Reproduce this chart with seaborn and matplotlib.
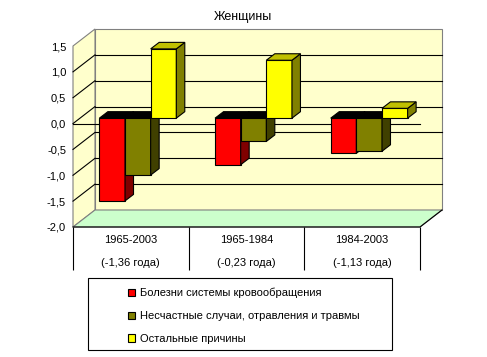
import numpy as np
import pandas as pd
import matplotlib
matplotlib.use('Agg')
import matplotlib.pyplot as plt
import matplotlib.transforms as mtransforms
from matplotlib.patches import Polygon, Rectangle, Patch
import seaborn as sns

# data
periods = ['1965-2003', '1965-1984', '1984-2003']
period_years = ['(-1,36 года)', '(-0,23 года)', '(-1,13 года)']
causes = ['Болезни системы кровообращения',
          'Несчастные случаи, отравления и травмы',
          'Остальные причины']
circulatory = [-1.60, -0.90, -0.68]
accidents = [-1.10, -0.45, -0.64]
other = [1.34, 1.12, 0.19]
yticks = [-2.0, -1.5, -1.0, -0.5, 0.0, 0.5, 1.0, 1.5]
ytick_labels = ['-2,0', '-1,5', '-1,0', '-0,5', '0,0', '0,5', '1,0', '1,5']

colors = ['#ff0000', '#808000', '#ffff00']
side_colors = ['#800000', '#404000', '#808000']
top_colors = ['#000000', '#000000', '#c0c000']

df = pd.DataFrame({
    'period': periods * 3,
    'cause': np.repeat(causes, len(periods)),
    'value': circulatory + accidents + other,
})

plt.rcParams['font.family'] = ['Liberation Sans', 'DejaVu Sans']

W, H = 487, 357
fig = plt.figure(figsize=(W / 100, H / 100), dpi=100)
ax = fig.add_axes([73 / W, 1 - 227 / H, 347 / W, 181 / H])

sns.barplot(data=df, x='period', y='value', hue='cause', order=periods,
            hue_order=causes, palette=colors, saturation=1, width=0.665,
            edgecolor='black', linewidth=0.8, legend=False, ax=ax)
bars = list(ax.patches)

ax.set_xlim(-0.5, 2.5)
ax.set_ylim(-2, 1.5)
ax.patch.set_visible(False)
for s in ax.spines.values():
    s.set_visible(False)
ax.set_xticks([])
ax.set_xlabel('')
ax.set_ylabel('')
ax.set_yticks(yticks)
ax.set_yticklabels(ytick_labels, fontsize=8)
ax.tick_params(axis='y', length=0, pad=5)

# pixel -> data unit conversion
p0 = ax.transData.transform((0, 0))
p1 = ax.transData.transform((1, 1))
sx = 1 / (p1[0] - p0[0])
sy = 1 / (p1[1] - p0[1])


def shifted(dx, dy):
    return ax.transData + mtransforms.ScaledTranslation(dx / 100, dy / 100, fig.dpi_scale_trans)


tr_back = shifted(22, 17)
tr_bar = shifted(7, 5.4)
DX, DY = 22 * sx, 17 * sy
bdx, bdy = 8.5 * sx, 6.5 * sy

# walls and floor
ax.add_patch(Rectangle((-0.5, -2), 3, 3.5, fc='#ffffcc', ec='#808080', lw=0.8,
                       transform=tr_back, zorder=0, clip_on=False))
ax.add_patch(Polygon([(-0.5, -2), (-0.5, 1.5), (-0.5 + DX, 1.5 + DY), (-0.5 + DX, -2 + DY)],
                     closed=True, fc='#ffffcc', ec='#808080', lw=0.8, zorder=0, clip_on=False))
ax.add_patch(Polygon([(-0.5, -2), (2.5, -2), (2.5 + DX, -2 + DY), (-0.5 + DX, -2 + DY)],
                     closed=True, fc='#ccffcc', ec='#808080', lw=0.8, zorder=0.5, clip_on=False))
for t in yticks[1:-1]:
    ax.plot([-0.5, 2.5], [t, t], color='black', lw=0.8, transform=tr_back, zorder=1, clip_on=False)
    ax.plot([-0.5, -0.5 + DX], [t, t + DY], color='black', lw=0.8, zorder=1, clip_on=False)
ax.plot([-0.5, 2.5], [0, 0], color='black', lw=0.8, zorder=2, clip_on=False)
ax.plot([-0.5, 2.5, 2.5 + DX], [-2, -2, -2 + DY], color='black', lw=0.8, zorder=2, clip_on=False)

# bars with depth faces
for p in bars:
    fc = p.get_facecolor()
    k = [i for i, c in enumerate(colors) if np.allclose(matplotlib.colors.to_rgba(c), fc, atol=0.01)]
    if not k:
        continue
    k = k[0]
    x0, w = p.get_x(), p.get_width()
    y0, h = p.get_y(), p.get_height()
    lo, hi = min(y0, y0 + h), max(y0, y0 + h)
    p.set_transform(tr_bar)
    p.set_zorder(3 + k)
    p.set_clip_on(False)
    side = [(x0 + w, lo), (x0 + w + bdx, lo + bdy), (x0 + w + bdx, hi + bdy), (x0 + w, hi)]
    top = [(x0, hi), (x0 + bdx, hi + bdy), (x0 + w + bdx, hi + bdy), (x0 + w, hi)]
    top_c = top_colors[k] if hi > 0 else '#000000'
    ax.add_patch(Polygon(side, closed=True, fc=side_colors[k], ec='black', lw=0.8,
                         transform=tr_bar, zorder=3 + k, clip_on=False))
    ax.add_patch(Polygon(top, closed=True, fc=top_c, ec='black', lw=0.8,
                         transform=tr_bar, zorder=3 + k, clip_on=False))

# category table
table_bottom = -2 - 43 * sy
ax.vlines([-0.5, 0.5, 1.5, 2.5], table_bottom, -2, color='black', lw=0.8, clip_on=False)
for i, (per, yrs) in enumerate(zip(periods, period_years)):
    ax.annotate(per, xy=(i, -2), xytext=(0, -13), textcoords='offset pixels',
                ha='center', va='center', fontsize=8)
    ax.annotate(yrs, xy=(i, -2), xytext=(0, -36), textcoords='offset pixels',
                ha='center', va='center', fontsize=8)

fig.text(243 / W, 1 - 17 / H, 'Женщины', ha='center', va='center', fontsize=9)

# legend
fig.add_artist(Rectangle((88 / W, 1 - 350 / H), (392 - 88) / W, 72 / H, transform=fig.transFigure,
                         fill=False, ec='black', lw=0.8))
handles = [Patch(fc=c, ec='black', lw=0.8) for c in colors]
fig.legend(handles, causes, loc='upper left', bbox_to_anchor=(128 / W, 1 - 288 / H),
           frameon=False, fontsize=8, handlelength=0.65, handleheight=0.65,
           handletextpad=0.45, labelspacing=1.15, borderpad=0, borderaxespad=0)

fig.savefig('out.png', dpi=100)
